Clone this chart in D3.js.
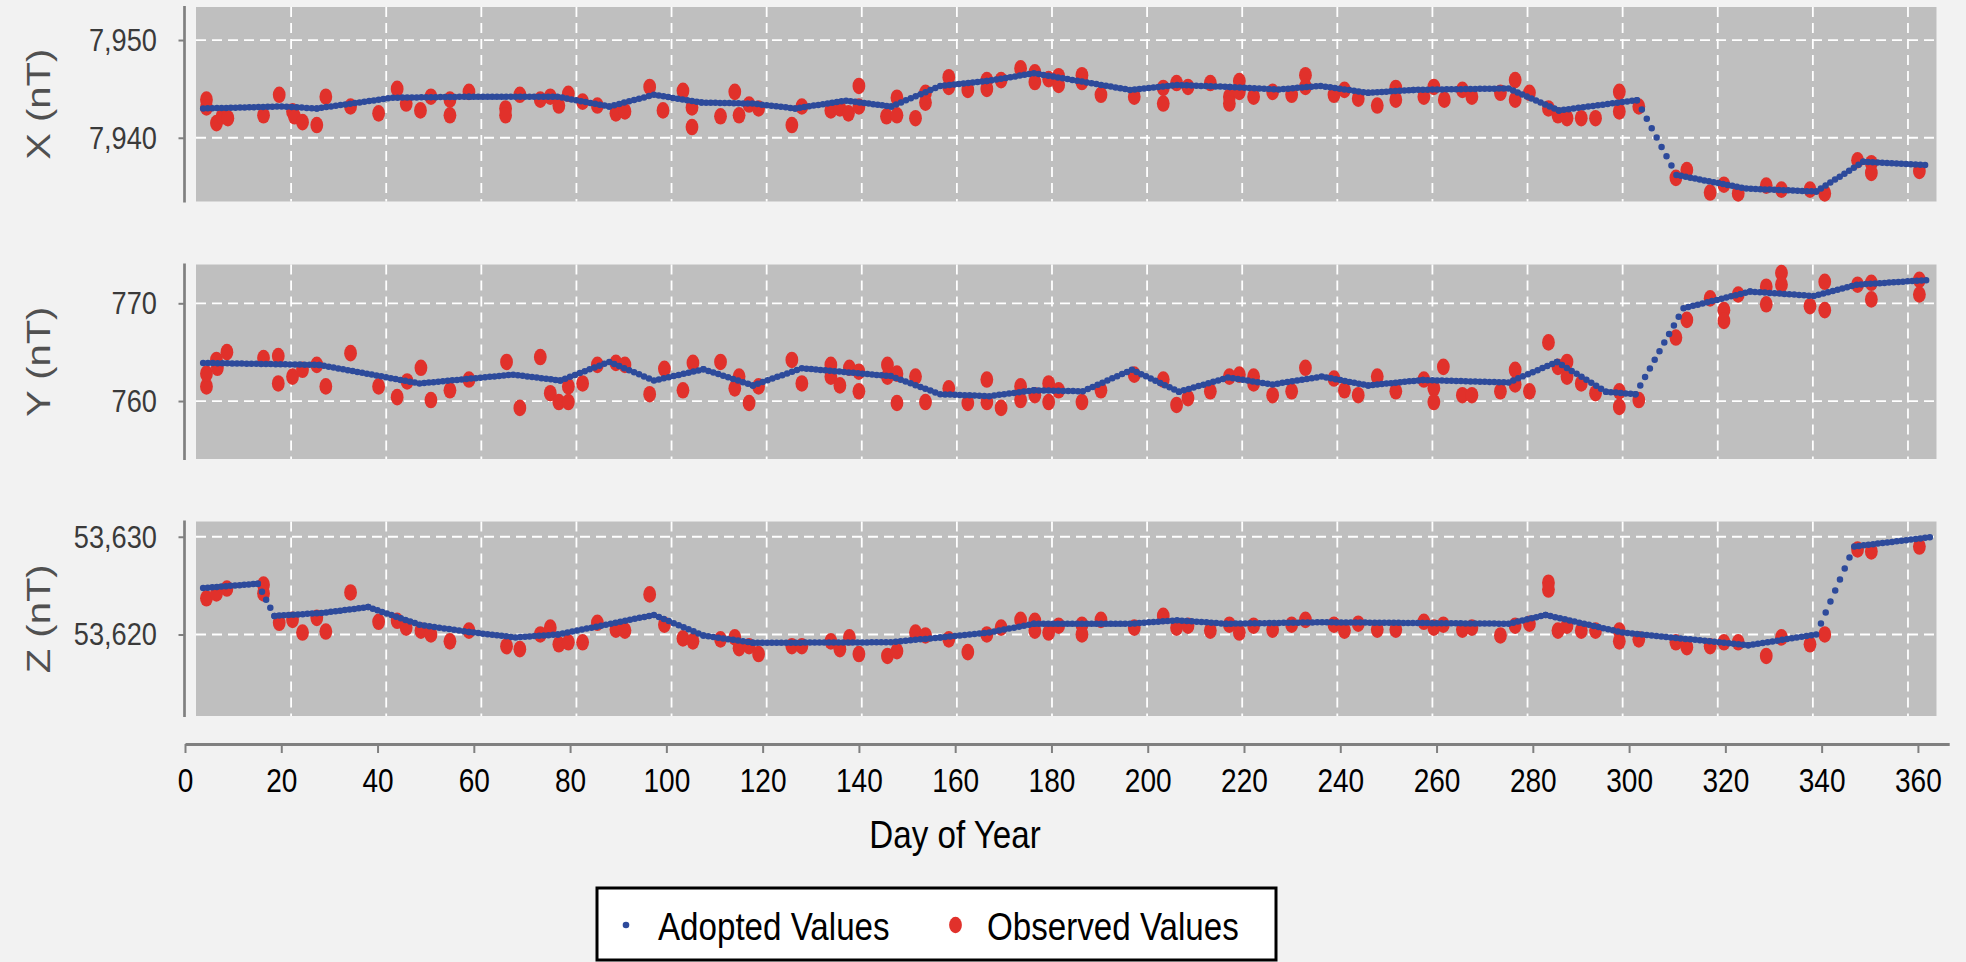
<!DOCTYPE html>
<html>
<head>
<meta charset="utf-8">
<script src="https://cdn.jsdelivr.net/npm/d3@7"></script>
<style>
  html, body { margin: 0; padding: 0; background: #f2f2f2; }
  svg { display: block; font-family: "Liberation Sans", Arial, sans-serif; }
</style>
</head>
<body>
<svg id="chart" width="1966" height="962"></svg>
<script>
// ---- Data ---------------------------------------------------------------
const componentTitles = ["X (nT)", "Y (nT)", "Z (nT)"];
const dayTicks = [0, 20, 40, 60, 80, 100, 120, 140, 160, 180, 200, 220, 240, 260, 280, 300, 320, 340, 360];
const gridDays = [20, 40, 60, 80, 100, 120, 140, 160, 180, 200, 220, 240, 260, 280, 300, 320, 340, 360];
const panelDayDomain = [0, 366];
const axisDayDomain = [0, 366.5];

const xTicks = [7940, 7950];
const yTicks = [760, 770];
const zTicks = [53620, 53630];
const xDomain = [7933.48, 7953.38];
const yDomain = [754.07, 773.97];
const zDomain = [53611.66, 53631.56];

// Adopted baseline values [day, nT]
const xAdopted = [[1.5,7943.0],[18,7943.2],[25.4,7943.0],[41.4,7944.1],[57.4,7944.2],[76,7944.2],[86.9,7943.2],[96.3,7944.4],[106.3,7943.6],[117,7943.5],[126,7943.0],[136.7,7943.8],[146.2,7943.2],[156.5,7945.3],[166.3,7945.8],[176.2,7946.6],[196.4,7944.9],[206.3,7945.4],[217.4,7945.2],[227.7,7944.95],[236.5,7945.3],[246.5,7944.6],[256,7944.9],[276,7945.05],[286.6,7942.8],[303,7943.85],[311.3,7936.2],[326,7934.8],[340.7,7934.5],[350.6,7937.55],[364.6,7937.2]];
const yAdopted = [[1.5,763.9],[25.9,763.7],[47,761.8],[66.7,762.7],[76.6,762.1],[86.9,764.0],[96.3,762.1],[106.7,763.25],[117.1,761.6],[127.4,763.35],[146.1,762.55],[156.5,760.7],[166.8,760.5],[176.2,761.1],[186.5,761.0],[196.8,763.2],[206.7,760.95],[217,762.4],[226.4,761.7],[236.7,762.5],[246.5,761.6],[258,762.15],[276,761.9],[286.2,764.0],[296.5,760.95],[302.7,760.7],[312.8,769.5],[326.8,771.2],[340.2,770.75],[349.2,771.9],[364.8,772.4]];
const zAdopted = [[1.5,53624.75],[13,53625.2],[16.5,53621.9],[26.4,53622.2],[36.2,53622.8],[47,53621.0],[57.4,53620.25],[67.2,53619.7],[76.1,53620.0],[96.3,53622.0],[106.7,53619.9],[117.1,53619.15],[146.1,53619.2],[156.5,53619.7],[166.8,53620.2],[176.2,53621.1],[196.4,53621.1],[206.3,53621.45],[216.6,53621.1],[236.8,53621.25],[276,53621.1],[283.8,53622.0],[300,53620.2],[326.4,53618.9],[340.7,53620.0],[348.7,53629.0],[364.6,53629.95]];

// Observed absolute measurements [day, nT]
const xObserved = [[2.2,7943.9],[2.2,7943.1],[4.3,7941.5],[5.5,7942.2],[6.7,7942.0],[14.2,7942.3],[17.5,7944.4],[20.3,7942.7],[20.7,7942.2],[22.4,7941.6],[25.4,7941.3],[27.3,7944.2],[32.5,7943.2],[38.4,7942.5],[42.3,7945.0],[44.2,7943.5],[47.2,7942.8],[49.4,7944.2],[53.4,7943.9],[53.4,7942.3],[57.4,7944.7],[65.1,7943.0],[65.1,7942.3],[68.1,7944.4],[72.4,7943.9],[74.5,7944.2],[76.3,7943.3],[78.3,7944.5],[81.3,7943.7],[84.4,7943.3],[88.3,7942.5],[90.2,7942.7],[95.4,7945.2],[98.2,7942.8],[102.4,7944.8],[104.3,7943.1],[104.3,7941.1],[110.3,7942.2],[113.3,7944.7],[114.2,7942.3],[116.3,7943.4],[118.3,7943.0],[125.3,7941.3],[127.4,7943.2],[133.5,7942.8],[135.4,7943.0],[137.2,7942.5],[139.4,7945.3],[139.4,7943.2],[145.2,7942.2],[147.4,7944.1],[147.4,7942.3],[151.3,7942.0],[153.4,7944.6],[153.4,7943.6],[158.3,7946.2],[158.3,7945.2],[162.3,7944.9],[166.3,7945.9],[166.3,7945.0],[169.3,7945.9],[173.4,7947.1],[176.4,7946.7],[176.4,7945.7],[179.3,7946.0],[181.4,7946.3],[181.4,7945.4],[186.3,7946.4],[186.3,7945.7],[190.3,7944.4],[197.3,7944.2],[203.4,7945.1],[203.4,7943.5],[206.2,7945.6],[208.6,7945.2],[213.3,7945.6],[217.3,7944.2],[217.3,7943.5],[219.4,7945.8],[219.4,7944.7],[222.4,7944.2],[226.4,7944.7],[230.4,7944.4],[233.3,7946.4],[233.3,7945.2],[239.3,7944.4],[241.5,7944.9],[244.4,7944.0],[248.4,7943.3],[252.3,7945.1],[252.3,7943.9],[258.2,7944.2],[260.3,7945.2],[262.5,7943.9],[266.3,7944.9],[268.3,7944.2],[274.3,7944.6],[277.4,7945.9],[277.4,7943.9],[280.4,7944.6],[284.4,7943.0],[286.4,7942.3],[288.3,7942.0],[291.3,7942.0],[294.3,7942.0],[299.3,7944.7],[299.3,7942.7],[303.4,7943.2],[311.2,7935.9],[313.5,7936.7],[318.4,7934.4],[321.3,7935.2],[324.3,7934.3],[330.2,7935.1],[333.4,7934.7],[339.4,7934.7],[342.5,7934.3],[349.4,7937.7],[352.3,7937.4],[352.3,7936.4],[362.4,7936.6]];
const yObserved = [[2.2,761.5],[2.2,762.8],[4.3,764.2],[4.5,763.4],[6.5,765.0],[14.2,764.4],[17.3,764.6],[17.3,761.8],[20.3,762.5],[22.4,763.2],[25.4,763.7],[27.3,761.5],[32.5,764.9],[38.4,761.5],[42.3,760.4],[44.4,762.0],[47.3,763.4],[49.4,760.1],[53.4,761.1],[57.4,762.2],[65.3,764.0],[68.1,759.3],[72.4,764.5],[74.5,760.8],[76.3,759.9],[78.3,761.5],[78.3,759.9],[81.3,761.8],[84.4,763.7],[88.3,763.9],[90.2,763.7],[95.4,760.7],[98.5,763.3],[102.4,761.1],[104.5,763.9],[110.3,764.0],[113.3,761.3],[114.2,762.5],[116.3,759.8],[118.3,761.5],[125.3,764.2],[127.4,761.8],[133.5,763.7],[133.5,762.5],[135.4,761.6],[137.4,763.4],[139.4,763.0],[139.4,761.0],[145.4,763.7],[145.4,762.5],[147.4,762.8],[147.4,759.8],[151.3,762.5],[153.4,759.9],[158.3,761.3],[162.3,759.8],[166.3,762.2],[166.3,759.9],[169.3,759.3],[173.4,761.5],[173.4,760.1],[176.4,760.6],[179.3,761.8],[179.3,759.9],[181.4,761.1],[186.3,759.9],[190.3,761.1],[197.3,762.7],[203.4,762.2],[206.2,759.6],[208.6,760.3],[213.3,761.0],[217.3,762.5],[219.4,762.7],[222.4,762.5],[222.4,761.8],[226.4,760.6],[230.4,761.0],[233.3,763.4],[239.3,762.3],[241.5,761.1],[244.4,760.6],[248.4,762.5],[252.3,761.0],[258.2,762.2],[260.3,761.3],[260.3,759.9],[262.3,763.5],[266.3,760.6],[268.3,760.6],[274.3,761.0],[277.4,763.2],[277.4,761.7],[280.4,761.0],[284.4,766.0],[286.4,763.5],[288.3,764.0],[288.3,762.5],[291.3,761.8],[294.3,760.8],[299.3,761.0],[299.3,759.4],[303.4,760.1],[311.2,766.5],[313.5,768.3],[318.4,770.5],[321.3,769.3],[321.3,768.2],[324.3,770.9],[330.2,771.7],[330.2,769.9],[333.4,773.1],[333.4,771.9],[339.4,769.7],[342.5,772.2],[342.5,769.3],[349.4,771.9],[352.3,772.1],[352.3,770.4],[362.4,772.4],[362.4,770.9]];
const zObserved = [[2.2,53623.7],[4.3,53624.2],[6.5,53624.7],[14.2,53625.1],[14.2,53624.2],[17.5,53621.2],[20.3,53621.5],[22.4,53620.2],[25.4,53621.7],[27.3,53620.3],[32.5,53624.3],[38.4,53621.3],[42.3,53621.4],[44.2,53620.7],[47.3,53620.4],[49.4,53620.0],[53.4,53619.3],[57.4,53620.4],[65.3,53618.8],[68.1,53618.5],[72.4,53620.0],[74.5,53620.7],[76.3,53619.0],[78.3,53619.2],[81.3,53619.2],[84.4,53621.2],[88.3,53620.5],[90.2,53620.4],[95.4,53624.1],[98.5,53621.0],[102.4,53619.6],[104.5,53619.3],[110.3,53619.5],[113.3,53619.7],[114.2,53618.6],[116.3,53618.8],[118.3,53618.0],[125.3,53618.8],[127.4,53618.8],[133.5,53619.3],[135.4,53618.5],[137.4,53619.7],[139.4,53618.0],[145.4,53617.8],[147.4,53618.3],[151.3,53620.2],[153.4,53619.9],[158.3,53619.5],[162.3,53618.2],[166.3,53620.0],[169.3,53620.7],[173.4,53621.5],[176.4,53621.4],[176.4,53620.4],[179.3,53620.2],[181.4,53620.9],[186.3,53621.0],[186.3,53620.0],[190.3,53621.5],[197.3,53620.7],[203.4,53621.9],[206.2,53620.7],[208.6,53620.9],[213.3,53620.4],[217.3,53621.0],[219.4,53620.2],[222.4,53620.9],[226.4,53620.5],[230.4,53621.0],[233.3,53621.5],[239.3,53621.0],[241.5,53620.4],[244.4,53621.1],[248.4,53620.5],[252.3,53620.5],[258.2,53621.3],[260.3,53620.7],[262.3,53621.0],[266.3,53620.5],[268.3,53620.7],[274.3,53619.9],[277.4,53620.9],[280.4,53621.1],[284.4,53625.3],[284.4,53624.6],[286.4,53620.4],[288.3,53620.9],[291.3,53620.4],[294.3,53620.4],[299.3,53620.4],[299.3,53619.3],[303.4,53619.5],[311.2,53619.2],[313.5,53618.7],[318.4,53618.8],[321.3,53619.2],[324.3,53619.2],[330.2,53617.8],[333.4,53619.7],[339.4,53619.0],[342.5,53620.0],[349.4,53628.7],[352.3,53628.5],[362.4,53629.0]];

const legendLabels = ["Adopted Values", "Observed Values"];
const axisTitle = "Day of Year";

// ---- Layout & style -----------------------------------------------------
const W = 1966, H = 962;
const SQ = 0.85;                 // horizontal condensing applied to text
const panelLeft = 196, panelRight = 1936.5, panelH = 194.5;
const panelTops = [7, 264.5, 521.5];
const spineX = 184.5;
const axisY = 744;
const BLUE = "#2d4a9b", RED = "#e1312b", PANEL = "#bfbfbf", AXIS = "#808080";
const DOT_W = 6.5;               // diameter of one adopted-value dot

const panels = [
  { title: componentTitles[0], ticks: xTicks, domain: xDomain, adopted: xAdopted, observed: xObserved },
  { title: componentTitles[1], ticks: yTicks, domain: yDomain, adopted: yAdopted, observed: yObserved },
  { title: componentTitles[2], ticks: zTicks, domain: zDomain, adopted: zAdopted, observed: zObserved }
];

const svg = d3.select("#chart");
svg.append("rect").attr("width", W).attr("height", H).attr("fill", "#f2f2f2");

const xPanel = d3.scaleLinear().domain(panelDayDomain).range([panelLeft, panelRight]);
const xAxisScale = d3.scaleLinear().domain(axisDayDomain).range([185, 1949.2]);
const fmt = d3.format(",");

panels.forEach((p, i) => {
  const top = panelTops[i], bottom = top + panelH;
  const y = d3.scaleLinear().domain(p.domain).range([bottom, top]);
  const g = svg.append("g");

  g.append("rect")
    .attr("x", panelLeft).attr("y", top)
    .attr("width", panelRight - panelLeft).attr("height", panelH)
    .attr("fill", PANEL);

  g.append("g").selectAll("line").data(gridDays).join("line")
    .attr("x1", d => xPanel(d)).attr("x2", d => xPanel(d))
    .attr("y1", top).attr("y2", bottom)
    .attr("stroke", "#fff").attr("stroke-width", 1.8)
    .attr("stroke-dasharray", "10,6");

  g.append("g").selectAll("line").data(p.ticks).join("line")
    .attr("x1", panelLeft).attr("x2", panelRight)
    .attr("y1", d => y(d)).attr("y2", d => y(d))
    .attr("stroke", "#fff").attr("stroke-width", 1.8)
    .attr("stroke-dasharray", "10,6");

  // left axis
  const ax = g.append("g").attr("transform", `translate(${spineX},0)`)
    .call(d3.axisLeft(y).tickValues(p.ticks).tickSize(6).tickSizeOuter(0)
      .tickPadding(26.4).tickFormat(fmt));
  ax.select(".domain").attr("stroke", AXIS).attr("stroke-width", 2.7)
    .attr("d", `M0,${top - 1}V${bottom + 1}`);
  ax.selectAll(".tick line").attr("stroke", AXIS).attr("stroke-width", 2);
  ax.selectAll(".tick text")
    .attr("transform", `scale(${SQ},1)`)
    .attr("font-size", 32).attr("fill", "#3a3a3a")
    .attr("font-family", "Liberation Sans, Arial, sans-serif");

  // component title
  g.append("text")
    .attr("transform", `translate(50,${top + panelH / 2}) scale(${SQ},1) rotate(-90)`)
    .attr("text-anchor", "middle")
    .attr("font-size", 40).attr("fill", "#505050")
    .text(p.title);

  // observed values
  g.append("g").selectAll("ellipse").data(p.observed).join("ellipse")
    .attr("cx", d => xPanel(d[0])).attr("cy", d => y(d[1]))
    .attr("rx", 6.4).attr("ry", 8.3)
    .attr("fill", RED);

  // adopted values: each stretch between two baseline values is a dotted
  // segment with one dot per day
  const segs = d3.pairs(p.adopted);
  const line = d3.line().x(d => xPanel(d[0])).y(d => y(d[1]));
  g.append("g").selectAll("path").data(segs).join("path")
    .attr("d", d => line(d))
    .attr("fill", "none")
    .attr("stroke", BLUE).attr("stroke-width", DOT_W)
    .attr("stroke-linecap", "round")
    .attr("stroke-dasharray", d => {
      const dx = xPanel(d[1][0]) - xPanel(d[0][0]);
      const dy = y(d[1][1]) - y(d[0][1]);
      const len = Math.hypot(dx, dy);
      const days = Math.max(1, Math.round(d[1][0] - d[0][0]));
      return `0,${len / days}`;
    });
});

// bottom axis
const bx = svg.append("g").attr("transform", `translate(0,${axisY})`)
  .call(d3.axisBottom(xAxisScale).tickValues(dayTicks).tickSize(9).tickSizeOuter(0).tickPadding(15.3));
bx.select(".domain").attr("stroke", AXIS).attr("stroke-width", 3);
bx.selectAll(".tick line").attr("stroke", AXIS).attr("stroke-width", 2);
bx.selectAll(".tick text")
  .attr("transform", `scale(${SQ},1)`)
  .attr("font-size", 33).attr("fill", "#000")
  .attr("font-family", "Liberation Sans, Arial, sans-serif");

svg.append("text")
  .attr("transform", `translate(955,848) scale(${SQ},1)`)
  .attr("text-anchor", "middle")
  .attr("font-size", 39).attr("fill", "#000")
  .text(axisTitle);

// legend
const lg = svg.append("g");
lg.append("rect").attr("x", 597).attr("y", 888).attr("width", 679).attr("height", 72)
  .attr("fill", "#fff").attr("stroke", "#000").attr("stroke-width", 3);
lg.append("circle").attr("cx", 626).attr("cy", 925).attr("r", 3.3).attr("fill", BLUE);
lg.append("text").attr("transform", `translate(658,940) scale(${SQ},1)`)
  .attr("font-size", 39).attr("fill", "#000").text(legendLabels[0]);
lg.append("ellipse").attr("cx", 955.5).attr("cy", 925).attr("rx", 6.4).attr("ry", 8.3).attr("fill", RED);
lg.append("text").attr("transform", `translate(987,940) scale(${SQ},1)`)
  .attr("font-size", 39).attr("fill", "#000").text(legendLabels[1]);
</script>
</body>
</html>
